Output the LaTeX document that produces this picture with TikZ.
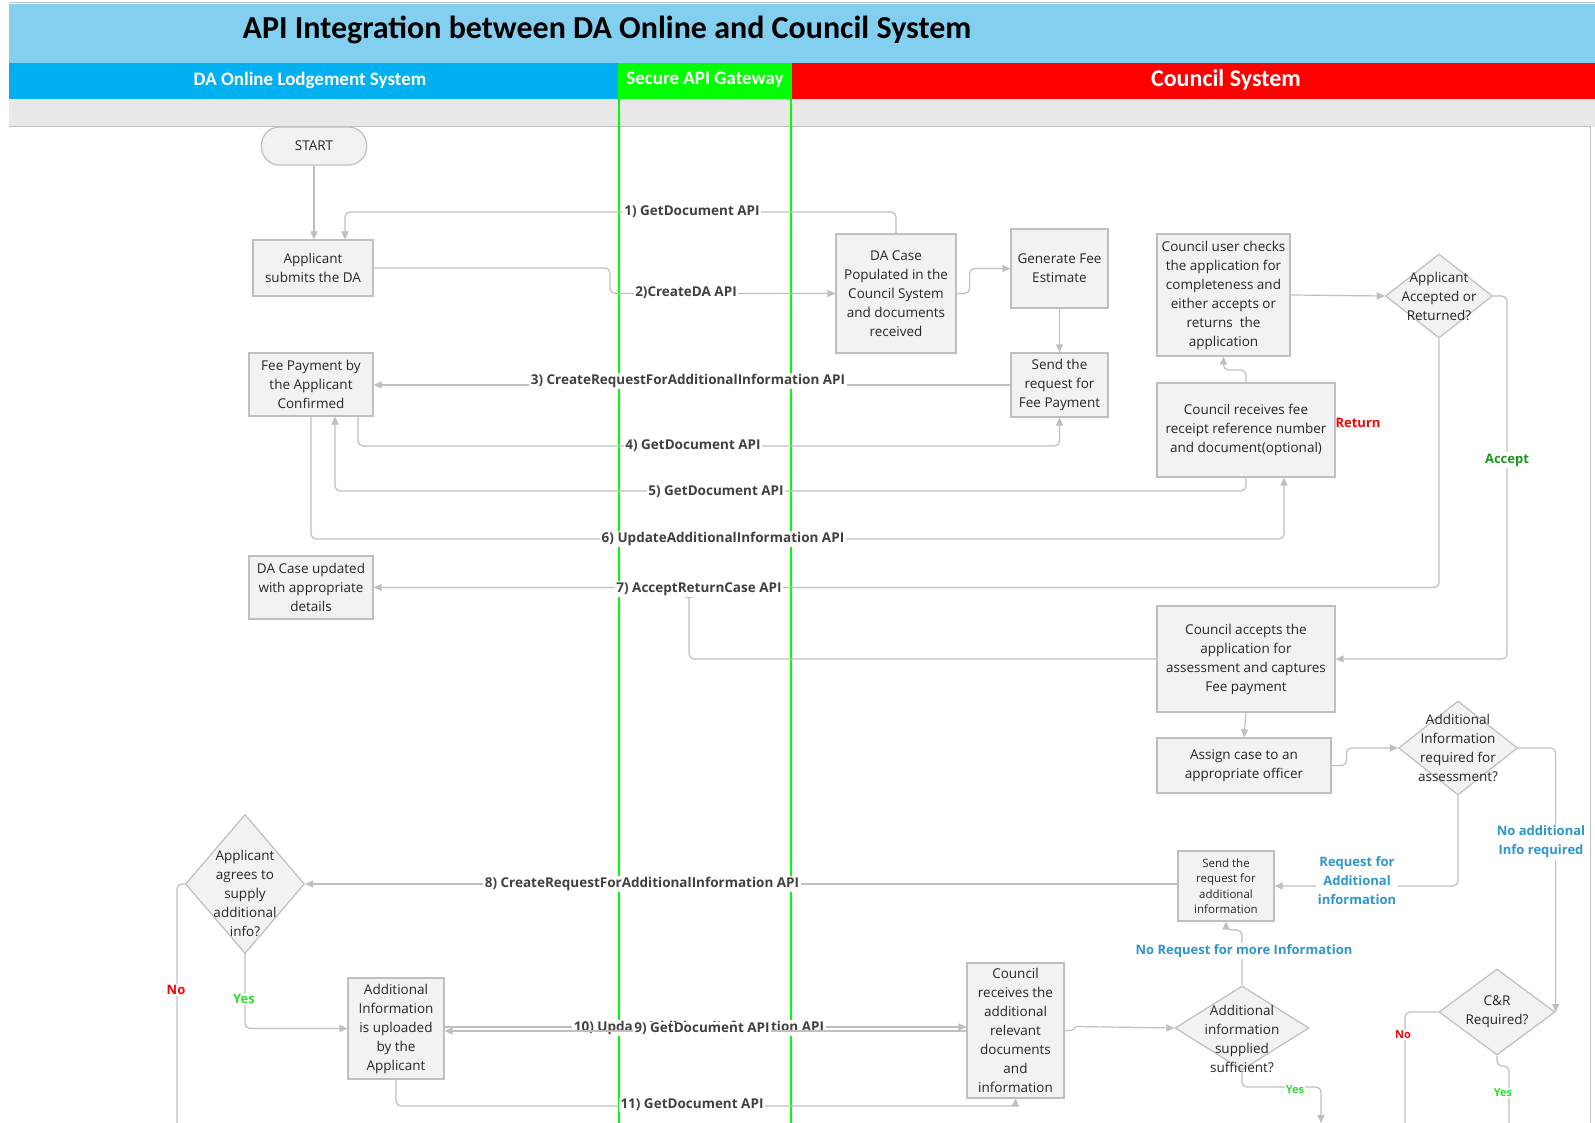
\documentclass[tikz,border=0pt]{standalone}
\usepackage{fontspec}
\setmainfont{Open Sans}
\newfontfamily\hdrfont{Carlito}
\usetikzlibrary{shapes.geometric,arrows.meta,calc}
\definecolor{titlebg}{RGB}{130,207,239}
\definecolor{lanebl}{RGB}{0,176,240}
\definecolor{lanegr}{RGB}{0,255,0}
\definecolor{lanerd}{RGB}{255,0,0}
\definecolor{bandgr}{RGB}{232,232,232}
\definecolor{boxfill}{RGB}{242,242,242}
\definecolor{boxline}{RGB}{191,191,191}
\definecolor{connc}{RGB}{191,191,191}
\definecolor{txtc}{RGB}{38,38,38}
\definecolor{apic}{RGB}{64,64,64}
\definecolor{bluelab}{RGB}{46,150,205}
\definecolor{greenyes}{RGB}{40,225,40}
\definecolor{greenacc}{RGB}{26,150,26}
\begin{document}
\begin{tikzpicture}[x=1pt,y=-1pt,
  box/.style={draw=boxline, fill=boxfill, line width=1.2pt, align=center, inner sep=0pt, text=txtc, font=\fontsize{13.5}{19}\selectfont},
  smallbox/.style={box, font=\fontsize{11.5}{15.5}\selectfont},
  dia/.style={diamond, draw=boxline, fill=boxfill, line width=1.2pt, inner sep=0pt},
  dtext/.style={align=center, text=txtc, inner sep=0pt, font=\fontsize{13.5}{19}\selectfont},
  conn/.style={draw=connc, line width=1.2pt, rounded corners=5pt, -{Triangle[length=8pt,width=7pt]}},
  connplain/.style={draw=connc, line width=1.2pt, rounded corners=5pt},
  api/.style={fill=white, inner sep=1.5pt, text=apic, font=\bfseries\fontsize{13.5}{15}\selectfont},
  bluetxt/.style={fill=white, inner sep=1.5pt, align=center, text=bluelab, font=\bfseries\fontsize{13}{19}\selectfont},
  hdr/.style={text=white, font=\hdrfont\bfseries\fontsize{19}{21}\selectfont}
]
\useasboundingbox (0,0) rectangle (1595,1123);
\fill[white] (0,0) rectangle (1595,1123);
% header
\draw[boxline, line width=1pt] (9,2.5) -- (1595,2.5);
\fill[titlebg] (9,4) rectangle (1595,63);
\fill[lanebl] (9,63) rectangle (619,99);
\fill[lanegr] (619,63) rectangle (791,99);
\fill[lanerd] (791,63) rectangle (1595,99);
\fill[bandgr] (9,99) rectangle (1595,127);
\draw[boxline, line width=1pt] (9,127) -- (1590,127) -- (1590,1123);
\draw[lanegr, line width=1.5pt] (619,63) -- (619,1123);
\draw[lanegr, line width=1.5pt] (791,63) -- (791,1123);
\node[font=\hdrfont\bfseries\fontsize{32}{36}\selectfont, text=black] (title) at (607,30) {API Integration between DA Online and Council System};
\node[hdr] (lane1) at (310,80) {DA Online Lodgement System};
\node[hdr] (lane2) at (705,80) {Secure API Gateway};
\node[hdr, font=\hdrfont\bfseries\fontsize{24}{26}\selectfont] (lane3) at (1226,80) {Council System};

\node[text=red, font=\bfseries\fontsize{13}{15}\selectfont] (ret) at (1358,423) {Return};

% nodes
\node[box, rounded corners=18pt, minimum width=105pt, minimum height=38pt] (start) at (314,146) {START};
\node[box, minimum width=120pt, minimum height=56pt] (app) at (313,268) {Applicant\\submits the DA};
\node[box, minimum width=124pt, minimum height=63pt] (feepay) at (311,384.5) {Fee Payment by\\the Applicant\\Confirmed};
\node[box, minimum width=124pt, minimum height=63pt] (dacu) at (311,587.5) {DA Case updated\\with appropriate\\details};
\node[dia, minimum width=119pt, minimum height=139pt] (agree) at (245,884) {};
\node[dtext] at ([yshift=-9pt]agree.center) {Applicant\\agrees to\\supply\\additional\\info?};
\node[box, minimum width=96pt, minimum height=101pt] (upl) at (396,1028.5) {Additional\\Information\\is uploaded\\by the\\Applicant};
\node[box, minimum width=120pt, minimum height=119pt] (dacase) at (896,293.5) {DA Case\\Populated in the\\Council System\\and documents\\received};
\node[box, minimum width=97pt, minimum height=79pt] (gen) at (1059.5,268.5) {Generate Fee\\Estimate};
\node[box, minimum width=97pt, minimum height=64pt] (feereq) at (1059.5,385) {Send the\\request for\\Fee Payment};
\node[box, minimum width=133pt, minimum height=122pt] (check) at (1223.5,295) {Council user checks\\the application for\\completeness and\\either accepts or\\returns\ \ the\\application};
\node[box, minimum width=178pt, minimum height=94pt] (recfee) at (1246,430) {Council receives fee\\receipt reference number\\and document(optional)};
\node[dia, minimum width=107pt, minimum height=84pt] (acc) at (1439,296) {};
\node[dtext] at (acc) {Applicant\\Accepted or\\Returned?};
\node[box, minimum width=178pt, minimum height=106pt] (cacc) at (1246,659) {Council accepts the\\application for\\assessment and captures\\Fee payment};
\node[box, minimum width=174pt, minimum height=55pt] (assign) at (1244,765.5) {Assign case to an\\appropriate officer};
\node[dia, minimum width=119pt, minimum height=94pt] (addreq) at (1458,748) {};
\node[dtext] at (addreq) {Additional\\Information\\required for\\assessment?};
\node[smallbox, minimum width=96pt, minimum height=70pt] (sendadd) at (1226,886) {Send the\\request for\\additional\\information};
\node[box, minimum width=97pt, minimum height=135pt] (cadd) at (1015.5,1030.5) {Council\\receives the\\additional\\relevant\\documents\\and\\information};
\node[dia, minimum width=134pt, minimum height=84pt] (suff) at (1242,1028) {};
\node[dtext] at ([yshift=-11pt]suff.center) {Additional\\information\\supplied\\sufficient?};
\node[dia, minimum width=116pt, minimum height=86pt] (cr) at (1497,1012) {};
\node[dtext] at (cr) {C\&R\\Required?};

% connectors
\draw[conn] (start.south) -- (start.south |- app.north);
\coordinate (a1) at ($(app.north)+(32,0)$);
\draw[conn] (dacase.north) |- (a1 |- 0,212) -- (a1);
\node[api] (l1) at (692,212) {1) GetDocument API};
\draw[conn] (app.east) -- (610,0 |- app.east) |- (dacase.west);
\node[api] (l2) at (686,293) {2)CreateDA API};
\draw[conn] (dacase.east) -- ++(13,0) |- (gen.west);
\draw[conn] (gen.south) -- (feereq.north);
\draw[conn] (feereq.west) -- (feereq.west -| feepay.east);
\node[api] (l3) at (688,381) {3) CreateRequestForAdditionalInformation API};
\coordinate (a4) at ($(feepay.south)+(47,0)$);
\draw[conn] (a4) |- (feereq.south |- 0,446) -- (feereq.south);
\node[api] (l4) at (693,446) {4) GetDocument API};
\coordinate (a5) at ($(feepay.south)+(24,0)$);
\draw[conn] (recfee.south) |- (a5 |- 0,491) -- (a5);
\node[api] (l5) at (716,492) {5) GetDocument API};
\coordinate (a6) at ($(recfee.south)+(38,0)$);
\draw[conn] (feepay.south) |- (a6 |- 0,539) -- (a6);
\node[api] (l6) at (723,539) {6) UpdateAdditionalInformation API};
\draw[conn] (recfee.north) |- (check.south |- 0,370) -- (check.south);
\draw[conn] (check.east) -- (acc.west);
\draw[conn] (acc.south) |- (dacu.east);
\coordinate (j7) at (689,590);
\draw[conn] (cacc.west) -| (j7);
\node[api] (l7) at (699,589) {7) AcceptReturnCase API};
\draw[conn] (acc.east) -- (1507,0 |- acc.east) |- (cacc.east);
\node[fill=white, inner sep=1.5pt, text=greenacc, font=\bfseries\fontsize{13}{15}\selectfont] (lacc) at (1507,460) {Accept};
\draw[conn] (cacc.south) -- (assign.north);
\draw[conn] (assign.east) -- ++(15,0) |- (addreq.west);
\draw[conn] (addreq.south) |- (sendadd.east);
\node[bluetxt] (lreq) at (1357,881) {Request for\\Additional\\information};
\draw[conn] (addreq.east) -| (cr.east);
\node[bluetxt] (lnoadd) at (1541,842) {No additional\\Info required};
\draw[conn] (sendadd.west |- agree.east) -- (agree.east);
\node[api] (l8) at (642,884) {8) CreateRequestForAdditionalInformation API};
\draw[conn] (agree.south) |- (upl.west);
\node[fill=white, inner sep=1pt, text=greenyes, font=\bfseries\fontsize{13}{15}\selectfont] (lyes1) at (244,999) {Yes};
\draw[connplain] (agree.west) -| (177,1123);
\node[fill=white, inner sep=1pt, text=red, font=\bfseries\fontsize{13}{15}\selectfont] (lno1) at (176,990) {No};
\draw[conn] (upl.east |- 0,1027) -- (cadd.west |- 0,1027);
\node[api] (l10) at (699,1028) {10) UpdateAdditionalInformation API};
\draw[conn] (cadd.west |- 0,1031) -- (upl.east |- 0,1031);
\node[api] (l9) at (702,1029) {9) GetDocument API};
\draw[conn] (upl.south) |- (cadd.south |- 0,1106) -- (cadd.south);
\node[api] (l11) at (692,1105) {11) GetDocument API};
\draw[conn, rounded corners=1.5pt] (cadd.east) -- ++(8,0) -- ++(3,-4) -- (suff.west);
\draw[conn] (suff.north) |- (sendadd.south |- 0,930) -- (sendadd.south);
\node[bluetxt] (lnoreq) at (1244,951) {No Request for more Information};
\draw[conn] (suff.south) |- (1321,1087) -- (1321,1123);
\node[fill=white, inner sep=1pt, text=greenyes, font=\bfseries\fontsize{11}{13}\selectfont] (lyes2) at (1295,1090) {Yes};
\draw[connplain] (cr.west) -| (1405,1123);
\node[fill=white, inner sep=1pt, text=red, font=\bfseries\fontsize{11}{13}\selectfont] (lno2) at (1403,1035) {No};
\draw[connplain] (cr.south) -- (cr.south |- 0,1066) -| (1509,1123);
\node[fill=white, inner sep=1pt, text=greenyes, font=\bfseries\fontsize{11}{13}\selectfont] (lyes3) at (1503,1093) {Yes};
\end{tikzpicture}
\end{document}
